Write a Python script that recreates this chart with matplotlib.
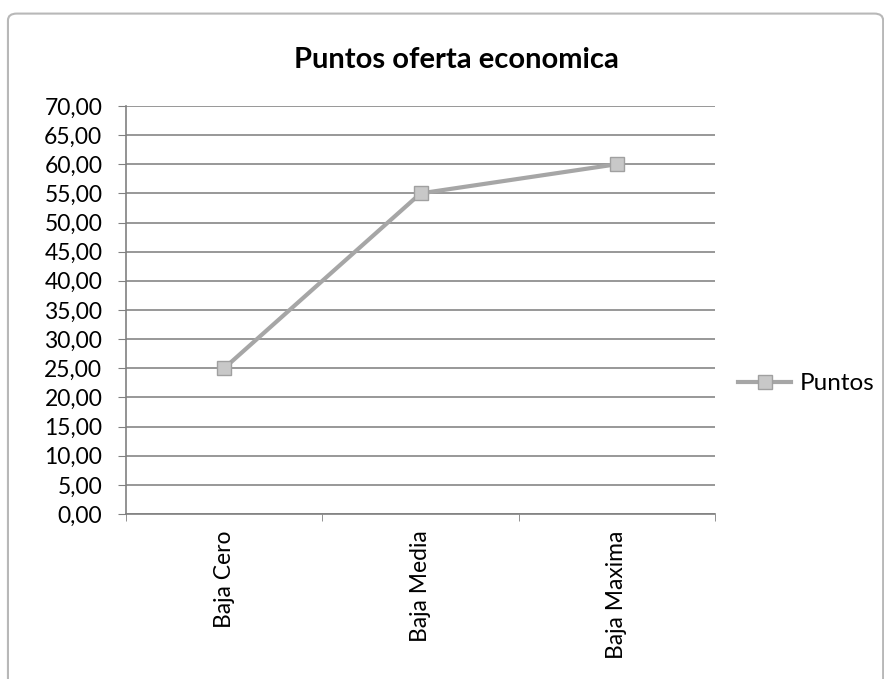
import matplotlib.pyplot as plt
from matplotlib.patches import FancyBboxPatch
from matplotlib.lines import Line2D

categorias = ["Baja Cero", "Baja Media", "Baja Maxima"]
puntos = [25.0, 55.0, 60.0]
y_ticks = list(range(0, 75, 5))

plt.rcParams['font.family'] = ['Lato', 'DejaVu Sans']

fig = plt.figure(figsize=(8.84, 6.79), dpi=100)
ax = fig.add_axes([0.1425, 0.243, 0.6665, 0.601])

# marco exterior del grafico
marco = FancyBboxPatch((0.009, -0.05), 0.99, 1.03, boxstyle="round,pad=0,rounding_size=0.01",
                       transform=fig.transFigure, fill=False, edgecolor='#b8b8b8', linewidth=1.5)
fig.patches.append(marco)

x = list(range(len(categorias)))
ax.plot(x, puntos, color='#a6a6a6', linewidth=3, marker='s', markersize=10,
        markerfacecolor='#c8c8c8', markeredgecolor='#a0a0a0', label='Puntos', zorder=3)

ax.set_xlim(-0.5, 2.5)
ax.set_ylim(0, 70)
ax.set_yticks(y_ticks)
ax.set_yticklabels([f"{v:.2f}".replace('.', ',') for v in y_ticks], fontsize=16.5)
ax.set_xticks(x)
ax.set_xticklabels(categorias, rotation=90, fontsize=16.5)
ax.set_xticks([-0.5, 0.5, 1.5, 2.5], minor=True)
ax.tick_params(axis='x', which='major', length=0, pad=12)
ax.tick_params(axis='x', which='minor', length=5, color='#808080', direction='out')
ax.tick_params(axis='y', length=6, color='#808080', pad=11)

ax.grid(axis='y', color='#909090', linewidth=1.3)
ax.set_axisbelow(True)
for s in ['top', 'right']:
    ax.spines[s].set_visible(False)
for s in ['left', 'bottom']:
    ax.spines[s].set_color('#808080')
    ax.spines[s].set_linewidth(1.2)

# titulo centrado sobre el area del grafico, no sobre los ejes
fig.text(0.516, 0.911, "Puntos oferta economica", fontsize=21, fontweight='bold',
         ha='center', va='center')

handle = Line2D([], [], color='#a6a6a6', linewidth=3, marker='s', markersize=10,
                markerfacecolor='#c8c8c8', markeredgecolor='#a0a0a0')
fig.legend([handle], ['Puntos'], loc='center left', bbox_to_anchor=(0.81, 0.435),
           frameon=False, fontsize=17.5, handlelength=2.2, handletextpad=0.35)

plt.savefig("out.png", dpi=100)
